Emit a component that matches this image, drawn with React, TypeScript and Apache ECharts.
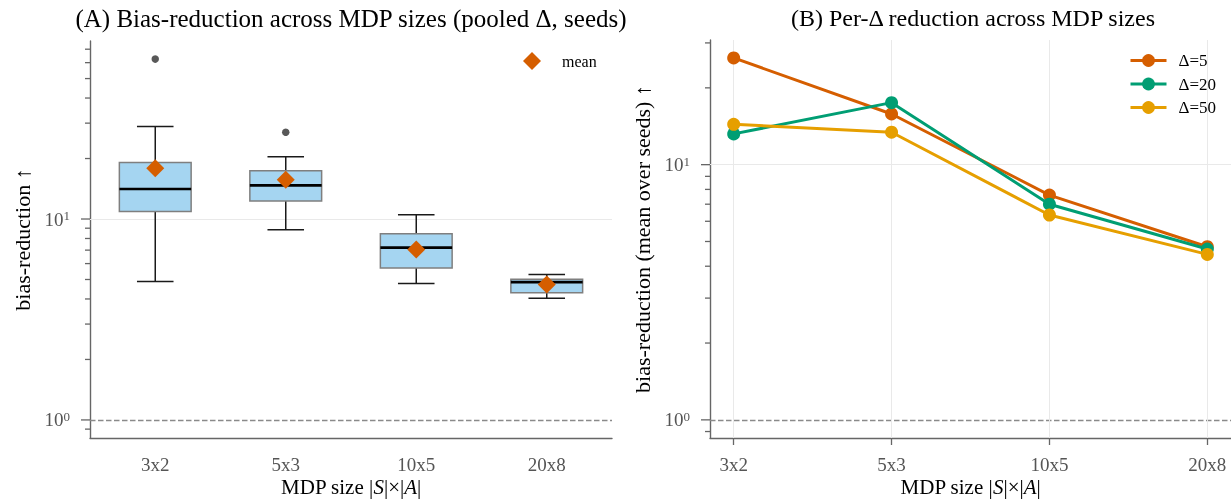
import React, { useEffect, useRef } from 'react';
import * as echarts from 'echarts';

const CATEGORIES = ['3x2', '5x3', '10x5', '20x8'];
const BOX_LOW_WHISKER = [4.88, 8.83, 4.78, 4.03];
const BOX_Q1 = [10.9, 12.3, 5.7, 4.3];
const BOX_MEDIAN = [14.1, 14.7, 7.2, 4.85];
const BOX_Q3 = [19.1, 17.4, 8.44, 5.02];
const BOX_HIGH_WHISKER = [28.9, 20.4, 10.5, 5.3];
const BOX_MEAN = [17.9, 15.7, 7.05, 4.72];
const OUTLIER_CATEGORY = [0, 1];
const OUTLIER_VALUE = [62.5, 27.0];

const DELTA_NAMES = ['Δ=5', 'Δ=20', 'Δ=50'];
const DELTA_5 = [26.2, 15.8, 7.6, 4.77];
const DELTA_20 = [13.2, 17.5, 7.0, 4.67];
const DELTA_50 = [14.4, 13.4, 6.35, 4.45];
const DELTA_COLORS = ['#D55E00', '#009E73', '#E69F00'];

const MAJOR_TICKS = [1, 10];
const MINOR_TICKS_A = [0.9, 2, 3, 4, 5, 6, 7, 8, 9, 20, 30, 40, 50, 60, 70];
const MINOR_TICKS_B = [0.9, 2, 3, 4, 5, 6, 7, 8, 9, 20, 30];
const X_POSITIONS = [0, 1, 2, 3];

const FONT = "'Liberation Serif', 'DejaVu Serif', serif";
const AXIS_COLOR = '#666666';
const LABEL_COLOR = '#555555';
const GRID_COLOR = '#e9e9e9';

function logLabel(v: number) {
  const l = Math.log10(v);
  const r = Math.round(l);
  if (Math.abs(l - r) < 1e-6) return `{b|10}{s|${r}}`;
  return '';
}

const logLabelStyle = {
  formatter: logLabel,
  margin: 20,
  rich: {
    b: { fontSize: 19, color: LABEL_COLOR, fontFamily: FONT, lineHeight: 20 },
    s: { fontSize: 13, color: LABEL_COLOR, fontFamily: FONT, lineHeight: 7, verticalAlign: 'top' },
  },
};

function tickSeries(gi: number, values: number[], len: number) {
  return {
    type: 'custom',
    xAxisIndex: gi,
    yAxisIndex: gi,
    silent: true,
    clip: false,
    z: 6,
    data: values.map((v) => [0, v]),
    encode: { x: 0, y: 1 },
    renderItem: (params: any, api: any) => {
      const cs = params.coordSys;
      const y = api.coord([0, api.value(1)])[1];
      return {
        type: 'line',
        shape: { x1: cs.x - len, y1: y, x2: cs.x, y2: y },
        style: { stroke: AXIS_COLOR, lineWidth: 1.3 },
      };
    },
  };
}

export default function App() {
  const ref = useRef<HTMLDivElement>(null);
  useEffect(() => {
    if (!ref.current) return;
    const chart = echarts.init(ref.current, undefined, { renderer: 'svg' });

    const boxData = CATEGORIES.map((_, i) => [
      i,
      BOX_LOW_WHISKER[i],
      BOX_Q1[i],
      BOX_MEDIAN[i],
      BOX_Q3[i],
      BOX_HIGH_WHISKER[i],
    ]);

    const axisLine = { show: true, onZero: false, lineStyle: { color: AXIS_COLOR, width: 1.4 } };
    const xName = {
      name: 'MDP size |{i|S}|×|{i|A}|',
      nameLocation: 'middle',
      nameGap: 38,
      nameMoveOverlap: false,
      nameTextStyle: {
        fontSize: 21,
        lineHeight: 21,
        color: '#000',
        fontFamily: FONT,
        rich: { i: { fontStyle: 'italic', fontSize: 21, lineHeight: 21, color: '#000', fontFamily: FONT } },
      },
    };
    const xLabel = { fontSize: 19, lineHeight: 19, color: LABEL_COLOR, margin: 17, fontFamily: FONT };
    const yCommon = {
      type: 'log',
      logBase: 10,
      axisLine,
      axisTick: { show: false },
      splitLine: { show: false },
      axisLabel: logLabelStyle,
      nameLocation: 'middle',
      nameGap: 57,
      nameMoveOverlap: false,
      nameTextStyle: { fontSize: 22, color: '#000', fontFamily: FONT },
    };

    const option: any = {
      animation: false,
      textStyle: { fontFamily: FONT },
      title: [
        {
          text: '(A) Bias-reduction across MDP sizes (pooled Δ, seeds)',
          left: 346,
          top: 1,
          textAlign: 'center',
          textStyle: { fontSize: 25, fontWeight: 'normal', color: '#000', fontFamily: FONT },
        },
        {
          text: '(B) Per-Δ reduction across MDP sizes',
          left: 968,
          top: 1,
          textAlign: 'center',
          textStyle: { fontSize: 24, fontWeight: 'normal', color: '#000', fontFamily: FONT },
        },
      ],
      legend: [
        {
          data: ['mean'],
          left: 518,
          top: 47,
          itemWidth: 18,
          itemHeight: 18,
          selectedMode: false,
          textStyle: { fontSize: 16, color: '#000', fontFamily: FONT, padding: [0, 0, 0, 16] },
        },
        {
          data: DELTA_NAMES,
          orient: 'vertical',
          left: 1124,
          top: 47,
          itemWidth: 36,
          itemHeight: 16,
          itemGap: 6.5,
          selectedMode: false,
          lineStyle: { width: 3 },
          textStyle: { fontSize: 17, color: '#000', fontFamily: FONT, padding: [0, 0, 0, 7] },
        },
      ],
      grid: [
        { left: 90, top: 41, width: 522, height: 397, outerBoundsMode: 'none', containLabel: false },
        { left: 710, top: 40, width: 521, height: 398, outerBoundsMode: 'none', containLabel: false },
      ],
      xAxis: [
        {
          type: 'category',
          gridIndex: 0,
          data: CATEGORIES,
          boundaryGap: true,
          axisLine,
          axisTick: { alignWithLabel: true, length: 7, lineStyle: { color: AXIS_COLOR, width: 1.3 } },
          axisLabel: xLabel,
          splitLine: { show: false },
          ...xName,
        },
        {
          type: 'value',
          gridIndex: 1,
          min: -0.15,
          max: 3.15,
          axisLine,
          axisTick: { customValues: X_POSITIONS, length: 7, lineStyle: { color: AXIS_COLOR, width: 1.3 } },
          axisLabel: {
            ...xLabel,
            customValues: X_POSITIONS,
            formatter: (v: number) => CATEGORIES[Math.round(v)] ?? '',
          },
          splitLine: { show: false },
          ...xName,
        },
      ],
      yAxis: [
        { ...yCommon, gridIndex: 0, min: 0.813, max: 76.9, name: 'bias-reduction ↑' },
        { ...yCommon, gridIndex: 1, min: 0.849, max: 30.8, name: 'bias-reduction (mean over seeds) ↑' },
      ],
      series: [
        {
          type: 'custom',
          name: 'box',
          xAxisIndex: 0,
          yAxisIndex: 0,
          silent: true,
          z: 3,
          data: boxData,
          encode: { x: 0, y: [1, 2, 3, 4, 5] },
          renderItem: (params: any, api: any) => {
            const cs = params.coordSys;
            const band = cs.width / CATEGORIES.length;
            const bw = band * 0.55;
            const cw = band * 0.28;
            const i = api.value(0);
            const pLw = api.coord([i, api.value(1)]);
            const pQ1 = api.coord([i, api.value(2)]);
            const pMed = api.coord([i, api.value(3)]);
            const pQ3 = api.coord([i, api.value(4)]);
            const pUw = api.coord([i, api.value(5)]);
            const x = pMed[0];
            const ws = { stroke: '#1a1a1a', lineWidth: 1.5 };
            return {
              type: 'group',
              children: [
                { type: 'line', shape: { x1: x, y1: pQ3[1], x2: x, y2: pUw[1] }, style: ws },
                { type: 'line', shape: { x1: x, y1: pQ1[1], x2: x, y2: pLw[1] }, style: ws },
                { type: 'line', shape: { x1: x - cw / 2, y1: pUw[1], x2: x + cw / 2, y2: pUw[1] }, style: ws },
                { type: 'line', shape: { x1: x - cw / 2, y1: pLw[1], x2: x + cw / 2, y2: pLw[1] }, style: ws },
                {
                  type: 'rect',
                  shape: { x: x - bw / 2, y: pQ3[1], width: bw, height: pQ1[1] - pQ3[1] },
                  style: { fill: '#a5d5f1', stroke: '#7f7f7f', lineWidth: 1.5 },
                },
                {
                  type: 'line',
                  shape: { x1: x - bw / 2, y1: pMed[1], x2: x + bw / 2, y2: pMed[1] },
                  style: { stroke: '#000', lineWidth: 2.6 },
                },
              ],
            };
          },
        },
        {
          type: 'scatter',
          name: 'outliers',
          xAxisIndex: 0,
          yAxisIndex: 0,
          silent: true,
          z: 4,
          symbol: 'circle',
          symbolSize: 7.5,
          itemStyle: { color: '#585858', opacity: 1 },
          data: OUTLIER_CATEGORY.map((c, k) => [c, OUTLIER_VALUE[k]]),
        },
        {
          type: 'scatter',
          name: 'mean',
          xAxisIndex: 0,
          yAxisIndex: 0,
          silent: true,
          z: 5,
          symbol: 'diamond',
          symbolSize: 18,
          itemStyle: { color: '#D55E00', opacity: 1 },
          data: BOX_MEAN.map((v, i) => [i, v]),
          markLine: {
            silent: true,
            symbol: 'none',
            z: 1,
            label: { show: false },
            data: [
              { yAxis: 1, lineStyle: { color: '#8a8a8a', width: 1.3, type: [5.5, 2.5] } },
              { yAxis: 10, lineStyle: { color: GRID_COLOR, width: 1, type: 'solid' } },
            ],
          },
        },
        tickSeries(0, MAJOR_TICKS, 9),
        tickSeries(0, MINOR_TICKS_A, 5),
        ...[DELTA_5, DELTA_20, DELTA_50].map((vals, k) => ({
          type: 'line',
          name: DELTA_NAMES[k],
          xAxisIndex: 1,
          yAxisIndex: 1,
          silent: true,
          z: 3 + k,
          symbol: 'circle',
          symbolSize: 13,
          showSymbol: true,
          color: DELTA_COLORS[k],
          itemStyle: { color: DELTA_COLORS[k], opacity: 1 },
          lineStyle: { color: DELTA_COLORS[k], width: 3 },
          data: vals.map((v, i) => [X_POSITIONS[i], v]),
          ...(k === 0
            ? {
                markLine: {
                  silent: true,
                  symbol: 'none',
                  z: 1,
                  label: { show: false },
                  data: [
                    { yAxis: 1, lineStyle: { color: '#8a8a8a', width: 1.3, type: [5.5, 2.5] } },
                    { yAxis: 10, lineStyle: { color: GRID_COLOR, width: 1, type: 'solid' } },
                    ...X_POSITIONS.map((x) => ({ xAxis: x, lineStyle: { color: GRID_COLOR, width: 1, type: 'solid' } })),
                  ],
                },
              }
            : {}),
        })),
        tickSeries(1, MAJOR_TICKS, 9),
        tickSeries(1, MINOR_TICKS_B, 5),
      ],
    };

    chart.setOption(option);
    return () => chart.dispose();
  }, []);

  return (
    <div
      ref={ref}
      style={{ position: 'fixed', left: 0, top: 0, width: 1231, height: 499 }}
    />
  );
}
